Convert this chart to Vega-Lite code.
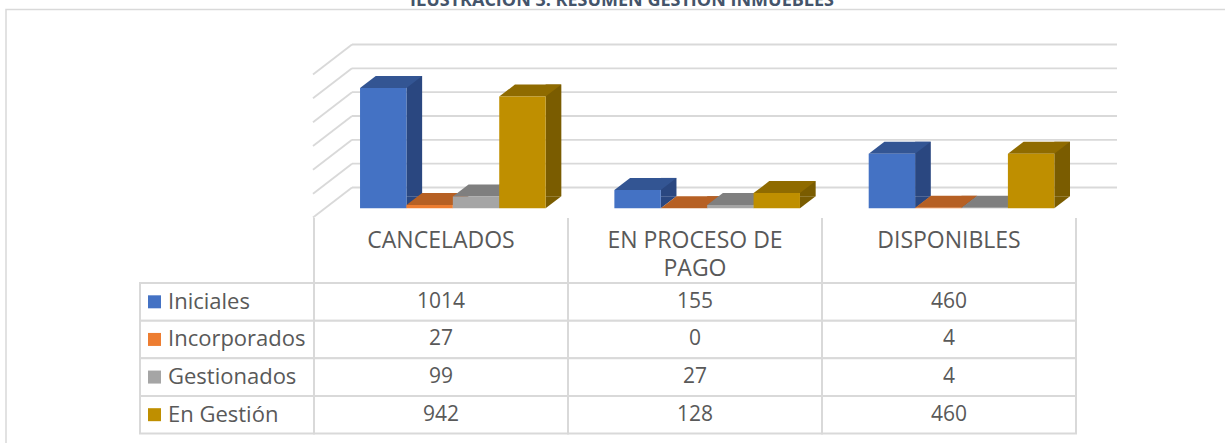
{
"$schema":"https://vega.github.io/schema/vega-lite/v6.json",
"width":1225,"height":443,"padding":0,"autosize":{"type":"none"},"background":"white",
"config":{"view":{"stroke":null},"axis":{"disable":true},"font":"Open Sans"},
"datasets":{
"cells":[
{"category":"CANCELADOS","series":"Iniciales","value":1014},
{"category":"CANCELADOS","series":"Incorporados","value":27},
{"category":"CANCELADOS","series":"Gestionados","value":99},
{"category":"CANCELADOS","series":"En Gestión","value":942},
{"category":"EN PROCESO DE PAGO","series":"Iniciales","value":155},
{"category":"EN PROCESO DE PAGO","series":"Incorporados","value":0},
{"category":"EN PROCESO DE PAGO","series":"Gestionados","value":27},
{"category":"EN PROCESO DE PAGO","series":"En Gestión","value":128},
{"category":"DISPONIBLES","series":"Iniciales","value":460},
{"category":"DISPONIBLES","series":"Incorporados","value":4},
{"category":"DISPONIBLES","series":"Gestionados","value":4},
{"category":"DISPONIBLES","series":"En Gestión","value":460}],
"cats":[
{"category":"CANCELADOS","label":"CANCELADOS"},
{"category":"EN PROCESO DE PAGO","label":"EN PROCESO DE\nPAGO"},
{"category":"DISPONIBLES","label":"DISPONIBLES"}],
"rows":[{"series":"Iniciales"},{"series":"Incorporados"},{"series":"Gestionados"},{"series":"En Gestión"}],
"gridEnds":[
{"level":0,"end":"a"},{"level":0,"end":"b"},{"level":200,"end":"a"},{"level":200,"end":"b"},
{"level":400,"end":"a"},{"level":400,"end":"b"},{"level":600,"end":"a"},{"level":600,"end":"b"},
{"level":800,"end":"a"},{"level":800,"end":"b"},{"level":1000,"end":"a"},{"level":1000,"end":"b"},
{"level":1200,"end":"a"},{"level":1200,"end":"b"}],
"levels":[{"level":0},{"level":200},{"level":400},{"level":600},{"level":800},{"level":1000},{"level":1200}],
"edges":[{"edge":"e0"},{"edge":"e1"},{"edge":"e2"},{"edge":"e3"}]
},
"resolve":{"scale":{"x":"independent","y":"independent","fill":"independent","xOffset":"independent"}},
"layer":[
{"data":{"values":[{"box":"outer"}]},
 "mark":{"type":"rect","fill":"white","stroke":"#d9d9d9","strokeWidth":1.5},
 "encoding":{"x":{"field":"box","type":"nominal","scale":{"domain":["outer"],"range":[6,1300],"paddingInner":0,"paddingOuter":0}},
 "y":{"field":"box","type":"nominal","scale":{"domain":["outer"],"range":[9.5,500],"paddingInner":0,"paddingOuter":0}}}},
{"data":{"values":[{"t":"ILUSTRACIÓN 3. RESUMEN GESTIÓN INMUEBLES"}]},
 "mark":{"type":"text","fontWeight":"bold","fontSize":18,"fill":"#44546a","baseline":"alphabetic","font":"Open Sans"},
 "encoding":{"text":{"field":"t"},
 "x":{"field":"t","type":"nominal","scale":{"type":"point","range":[622,622]}},
 "y":{"field":"t","type":"nominal","scale":{"type":"point","range":[6,6]}}}},
{"data":{"name":"gridEnds"},
 "mark":{"type":"line","stroke":"#d9d9d9","strokeWidth":1.8},
 "encoding":{"x":{"field":"end","type":"ordinal","scale":{"type":"point","domain":["a","b"],"range":[352,1117],"padding":0}},
 "y":{"field":"level","type":"quantitative","scale":{"domain":[0,1200],"range":[187.5,44.5]}},
 "detail":{"field":"level"}}},
{"data":{"name":"levels"},
 "mark":{"type":"point","shape":"M0,0L-39,30","size":4,"filled":false,"stroke":"#d9d9d9","strokeWidth":1.8,"opacity":1},
 "encoding":{"x":{"datum":"back","type":"nominal","scale":{"type":"point","range":[352,352]}},
 "y":{"field":"level","type":"quantitative","scale":{"domain":[0,1200],"range":[187.5,44.5]}}}},
{"data":{"name":"cells"},
 "resolve":{"scale":{"fill":"independent","xOffset":"independent"}},
 "encoding":{
 "x":{"field":"category","type":"nominal","sort":null,"scale":{"domain":["CANCELADOS","EN PROCESO DE PAGO","DISPONIBLES"],"range":[325.7,1088.7],"paddingInner":0.27,"paddingOuter":0.135}},
 "y":{"field":"value","type":"quantitative","scale":{"domain":[0,1200],"range":[208.3,66]}}},
 "layer":[
 {"mark":{"type":"bar","width":15.7,"yOffset":-12,"y2Offset":-12},
  "encoding":{"xOffset":{"field":"series","type":"nominal","scale":{"domain":["Iniciales","Incorporados","Gestionados","En Gestión"],"range":[31.05,216.65],"paddingInner":0,"paddingOuter":0}},"y2":{"datum":0},"fill":{"field":"series","type":"nominal","legend":null,"scale":{"domain":["Iniciales","Incorporados","Gestionados","En Gestión"],"range":["#2a4780","#8c4a1d","#666666","#7a5c00"]}}}},
 {"mark":{"type":"point","shape":"M23.2,0L23.2,-12L38.9,-12Z","size":4,"filled":true,"opacity":1},
  "encoding":{"xOffset":{"field":"series","type":"nominal","scale":{"type":"point","padding":0.5,"domain":["Iniciales","Incorporados","Gestionados","En Gestión"],"range":[0,185.6]}},"y":{"datum":0,"type":"quantitative","scale":{"domain":[0,1200],"range":[208.3,66]}},"fill":{"field":"series","type":"nominal","legend":null,"scale":{"domain":["Iniciales","Incorporados","Gestionados","En Gestión"],"range":["#2a4780","#8c4a1d","#666666","#7a5c00"]}}}},
 {"mark":{"type":"point","shape":"M-23.2,0L23.2,0L38.9,-12L-7.5,-12Z","size":4,"filled":true,"opacity":1},
  "encoding":{"xOffset":{"field":"series","type":"nominal","scale":{"type":"point","padding":0.5,"domain":["Iniciales","Incorporados","Gestionados","En Gestión"],"range":[0,185.6]}},"fill":{"field":"series","type":"nominal","legend":null,"scale":{"domain":["Iniciales","Incorporados","Gestionados","En Gestión"],"range":["#335593","#b66024","#7f7f7f","#8f6b00"]}}}},
 {"mark":{"type":"bar"},
  "encoding":{"xOffset":{"field":"series","type":"nominal","scale":{"domain":["Iniciales","Incorporados","Gestionados","En Gestión"],"range":[0,185.6],"paddingInner":0,"paddingOuter":0}},"y2":{"datum":0},"fill":{"field":"series","type":"nominal","legend":null,"scale":{"domain":["Iniciales","Incorporados","Gestionados","En Gestión"],"range":["#4472c4","#ed7d31","#a5a5a5","#bf8f00"]}}}}
 ]},
{"data":{"name":"edges"},
 "mark":{"type":"rule","stroke":"#d9d9d9","strokeWidth":2},
 "encoding":{"x":{"field":"edge","type":"ordinal","scale":{"type":"point","domain":["e0","e1","e2","e3"],"range":[314,1076],"padding":0}},
 "y":{"datum":1,"type":"quantitative","scale":{"domain":[0,1],"range":[283,218]}},"y2":{"datum":0}}},
{"data":{"name":"cells"},
 "mark":{"type":"rect","fill":"white","stroke":"#d9d9d9","strokeWidth":2},
 "encoding":{"x":{"field":"category","type":"nominal","scale":{"domain":["CANCELADOS","EN PROCESO DE PAGO","DISPONIBLES"],"range":[314,1076],"paddingInner":0,"paddingOuter":0}},
 "y":{"field":"series","type":"nominal","scale":{"domain":["Iniciales","Incorporados","Gestionados","En Gestión"],"range":[283,433.5],"paddingInner":0,"paddingOuter":0}}}},
{"data":{"name":"cells"},
 "mark":{"type":"text","fontSize":21,"fill":"#595959","baseline":"middle","font":"Open Sans"},
 "encoding":{"text":{"field":"value","type":"quantitative"},
 "x":{"field":"category","type":"nominal","scale":{"domain":["CANCELADOS","EN PROCESO DE PAGO","DISPONIBLES"],"range":[314,1076],"paddingInner":0,"paddingOuter":0}},
 "y":{"field":"series","type":"nominal","scale":{"domain":["Iniciales","Incorporados","Gestionados","En Gestión"],"range":[283,433.5],"paddingInner":0,"paddingOuter":0}}}},
{"data":{"name":"cats"},
 "mark":{"type":"text","fontSize":23,"fill":"#595959","baseline":"top","lineBreak":"\n","lineHeight":28,"font":"Open Sans"},
 "encoding":{"text":{"field":"label"},
 "x":{"field":"category","type":"nominal","scale":{"domain":["CANCELADOS","EN PROCESO DE PAGO","DISPONIBLES"],"range":[314,1076],"paddingInner":0,"paddingOuter":0}},
 "y":{"datum":"head","type":"nominal","scale":{"type":"point","range":[229.5,229.5]}}}},
{"data":{"name":"rows"},
 "resolve":{"scale":{"fill":"independent"}},
 "encoding":{
 "x":{"datum":"legend","type":"nominal","bandPosition":0,"scale":{"type":"band","domain":["legend"],"range":[140,314],"paddingInner":0,"paddingOuter":0}},
 "y":{"field":"series","type":"nominal","scale":{"domain":["Iniciales","Incorporados","Gestionados","En Gestión"],"range":[283,433.5],"paddingInner":0,"paddingOuter":0}}},
 "layer":[
 {"mark":{"type":"rect","fill":"white","stroke":"#d9d9d9","strokeWidth":2},
  "encoding":{"x":{"datum":"legend","type":"nominal","scale":{"type":"band","domain":["legend"],"range":[140,314],"paddingInner":0,"paddingOuter":0}}}},
 {"mark":{"type":"text","fontSize":22,"fill":"#595959","align":"left","baseline":"middle","dx":28,"font":"Open Sans"},
  "encoding":{"text":{"field":"series"}}},
 {"mark":{"type":"point","shape":"square","size":169,"filled":true,"opacity":1,"xOffset":14.5},
  "encoding":{"fill":{"field":"series","type":"nominal","legend":null,"scale":{"domain":["Iniciales","Incorporados","Gestionados","En Gestión"],"range":["#4472c4","#ed7d31","#a5a5a5","#bf8f00"]}}}}
 ]}
]
}
